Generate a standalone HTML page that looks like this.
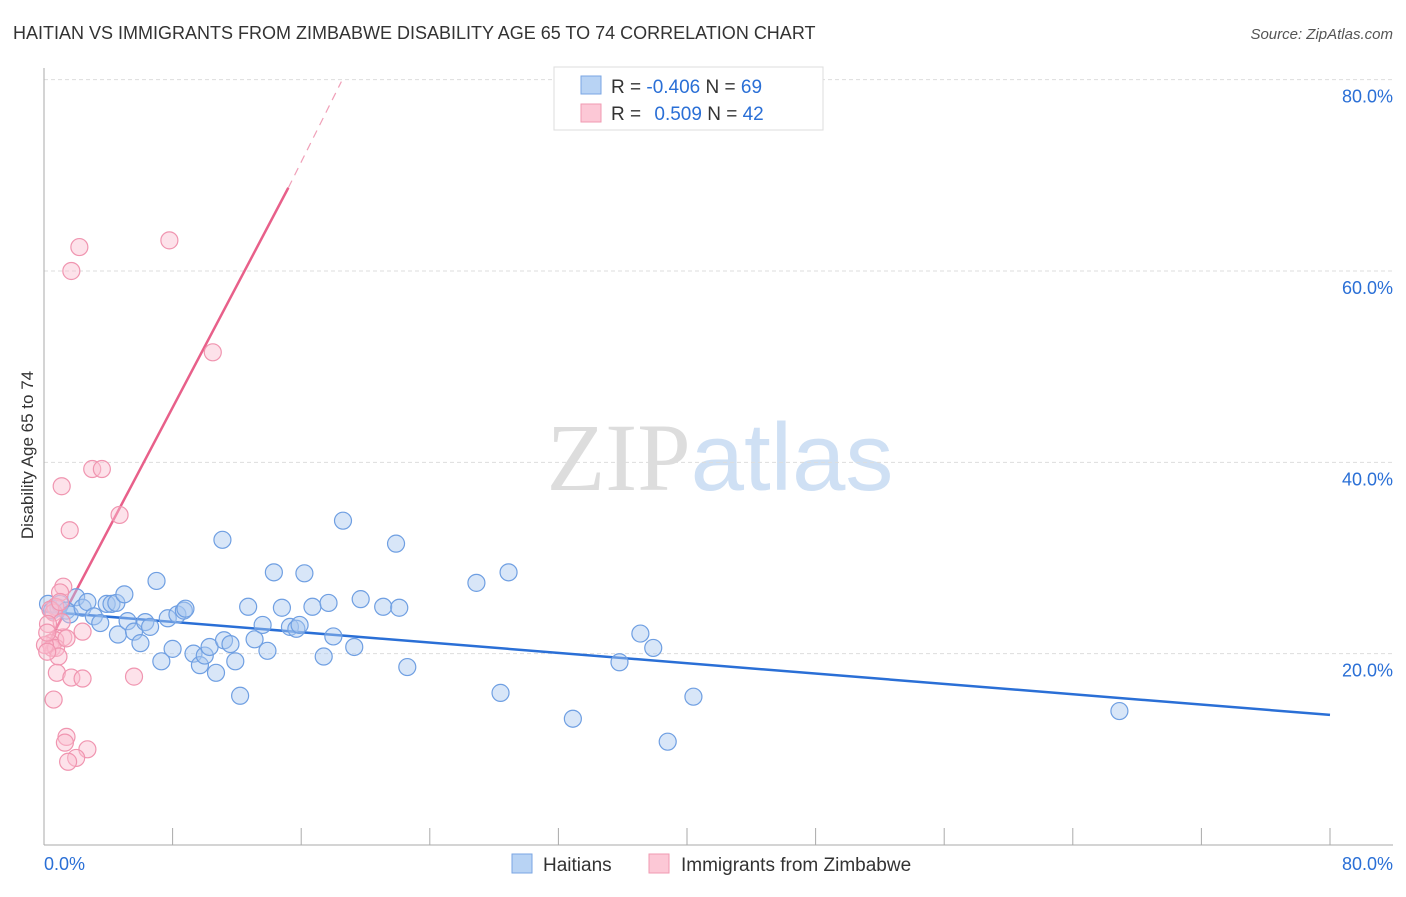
<!DOCTYPE html>
<html><head><meta charset="utf-8">
<style>
body{margin:0;background:#fff;font-family:"Liberation Sans",sans-serif;}
svg text{font-family:"Liberation Sans",sans-serif;}
</style></head>
<body>
<svg id="chart" width="1406" height="892" viewBox="0 0 1406 892" xmlns="http://www.w3.org/2000/svg">
<text x="13" y="39" font-size="18" fill="#333">HAITIAN VS IMMIGRANTS FROM ZIMBABWE DISABILITY AGE 65 TO 74 CORRELATION CHART</text>
<text x="1393" y="39" font-size="15" fill="#555" font-style="italic" text-anchor="end">Source: ZipAtlas.com</text>
<text x="720" y="490" font-size="96" text-anchor="middle"><tspan fill="#ddd" font-family="Liberation Serif">ZIP</tspan><tspan fill="#cfe0f4">atlas</tspan></text>
<g id="grid"></g>
<g id="axes"></g>
<g id="lines"></g>
<g id="pts"></g>
<text transform="translate(33,455) rotate(-90)" font-size="17" fill="#333" text-anchor="middle">Disability Age 65 to 74</text>
<g>
<rect x="554" y="67" width="269" height="63" fill="#fff" stroke="#ddd"/>
<rect x="581" y="76" width="20" height="18" fill="#b8d3f4" stroke="#7aa6e3"/>
<rect x="581" y="104" width="20" height="18" fill="#fcc8d6" stroke="#f09ab2"/>
<text x="611" y="93" font-size="19" fill="#333">R = <tspan fill="#2a6fd6">-0.406</tspan>   N = <tspan fill="#2a6fd6">69</tspan></text>
<text x="611" y="120" font-size="19" fill="#333">R =  <tspan fill="#2a6fd6" dx="8">0.509</tspan>   N = <tspan fill="#2a6fd6">42</tspan></text>
</g>
<g>
<rect x="512" y="854" width="20" height="19" fill="#b8d3f4" stroke="#7aa6e3"/>
<text x="543" y="871" font-size="19" fill="#333">Haitians</text>
<rect x="649" y="854" width="20" height="19" fill="#fcc8d6" stroke="#f09ab2"/>
<text x="681" y="871" font-size="19" fill="#333">Immigrants from Zimbabwe</text>
</g>
</svg>
<script>
const blueX=[0.25,0.5,0.9,1.0,1.4,1.6,2.0,2.4,2.7,3.1,3.5,3.9,4.2,4.5,4.6,5.0,5.2,5.6,6.0,6.3,6.6,7.0,7.3,7.7,8.0,8.3,8.7,8.8,9.3,9.7,10.0,10.3,10.7,11.1,11.2,11.6,11.9,12.2,12.7,13.1,13.6,13.9,14.3,14.8,15.3,15.7,15.9,16.2,16.7,17.4,17.7,18.0,18.6,19.3,19.7,21.1,21.9,22.1,22.6,26.9,28.4,28.9,32.9,35.8,37.1,37.9,38.8,40.4,66.9];
const blueY=[25.2,24.5,24.8,25.2,24.5,24.1,25.9,24.8,25.4,23.9,23.2,25.2,25.2,25.3,22.0,26.2,23.4,22.3,21.1,23.3,22.8,27.6,19.2,23.7,20.5,24.1,24.5,24.7,20.0,18.8,19.8,20.7,18.0,31.9,21.4,21.0,19.2,15.6,24.9,21.5,23.0,20.3,28.5,24.8,22.8,22.6,23.0,28.4,24.9,19.7,25.3,21.8,33.9,20.7,25.7,24.9,31.5,24.8,18.6,27.4,15.9,28.5,13.2,19.1,22.1,20.6,10.8,15.5,14.0];
const pinkX=[2.2,1.7,7.8,10.5,3.0,3.6,1.1,1.6,4.7,1.2,1.0,0.7,0.6,0.4,2.4,1.2,0.7,1.1,0.4,0.25,0.5,0.75,0.06,0.9,0.8,1.7,2.4,5.6,0.6,1.4,1.3,2.7,2.0,1.5,0.2,0.2,1.4,1.0];
const pinkY=[62.5,60.0,63.2,51.5,39.3,39.3,37.5,32.9,34.5,27.0,26.4,24.9,24.3,24.6,22.3,21.7,21.4,23.3,21.1,23.1,20.6,20.6,20.9,19.7,18.0,17.5,17.4,17.6,15.2,11.3,10.7,10.0,9.1,8.7,22.2,20.2,21.6,25.4];
const yTicks=[20,40,60,80];
const yTickLabels=["20.0%","40.0%","60.0%","80.0%"];
const xTicks=[0,8,16,24,32,40,48,56,64,72,80];
const blueTrend=[[0,24.4],[80,13.6]];
const pinkTrend=[[0,20.2],[15.2,68.7]];
const pinkTrendDash=[[15.2,68.7],[18.5,79.8]];

const NS="http://www.w3.org/2000/svg";
const sx=v=>44+v*16.075;
const sy=v=>845-v*9.567;
function mk(tag,attrs,parent){const e=document.createElementNS(NS,tag);for(const k in attrs)e.setAttribute(k,attrs[k]);parent.appendChild(e);return e;}
const grid=document.getElementById('grid'),axes=document.getElementById('axes'),lines=document.getElementById('lines'),pts=document.getElementById('pts');
yTicks.forEach((t,i)=>{
  const l=mk('line',{x1:44,x2:1393,y1:sy(t),y2:sy(t),stroke:'#ddd','stroke-dasharray':'4,3'},grid);
  
  
  const tx=mk('text',{x:1393,y:sy(t)+23,'font-size':18,fill:'#2a6fd6','text-anchor':'end'},axes);
  tx.textContent=yTickLabels[i];
  
  
});
const yl=mk('line',{x1:44,x2:44,y1:68,y2:845,stroke:'#aaa'},axes);


const xl=mk('line',{x1:44,x2:1393,y1:845,y2:845,stroke:'#aaa'},axes);


xTicks.forEach(t=>{
  const l=mk('line',{x1:sx(t),x2:sx(t),y1:828,y2:845,stroke:'#aaa'},axes);
  
  
});
const x0=mk('text',{x:44,y:870,'font-size':18,fill:'#2a6fd6'},axes);x0.textContent='0.0%';


const x1=mk('text',{x:1393,y:870,'font-size':18,fill:'#2a6fd6','text-anchor':'end'},axes);x1.textContent='80.0%';



blueX.forEach((v,i)=>{
  const c=mk('circle',{cx:sx(v),cy:sy(blueY[i]),r:8.5,fill:'rgba(168,200,240,0.45)',stroke:'#6f9fe2','stroke-width':1.2},pts);
  
  
});
pinkX.forEach((v,i)=>{
  const c=mk('circle',{cx:sx(v),cy:sy(pinkY[i]),r:8.5,fill:'rgba(250,190,208,0.45)',stroke:'#f095b0','stroke-width':1.2},pts);
  
  
});
const bl=mk('line',{x1:sx(blueTrend[0][0]),y1:sy(blueTrend[0][1]),x2:sx(blueTrend[1][0]),y2:sy(blueTrend[1][1]),stroke:'#2a6fd6','stroke-width':2.5},lines);


const pl=mk('line',{x1:sx(pinkTrend[0][0]),y1:sy(pinkTrend[0][1]),x2:sx(pinkTrend[1][0]),y2:sy(pinkTrend[1][1]),stroke:'#e8608a','stroke-width':2.5},lines);


const pd=mk('line',{x1:sx(pinkTrendDash[0][0]),y1:sy(pinkTrendDash[0][1]),x2:sx(pinkTrendDash[1][0]),y2:sy(pinkTrendDash[1][1]),stroke:'#f0a0b8','stroke-width':1.2,'stroke-dasharray':'8,6'},lines);


</script>
</body></html>
